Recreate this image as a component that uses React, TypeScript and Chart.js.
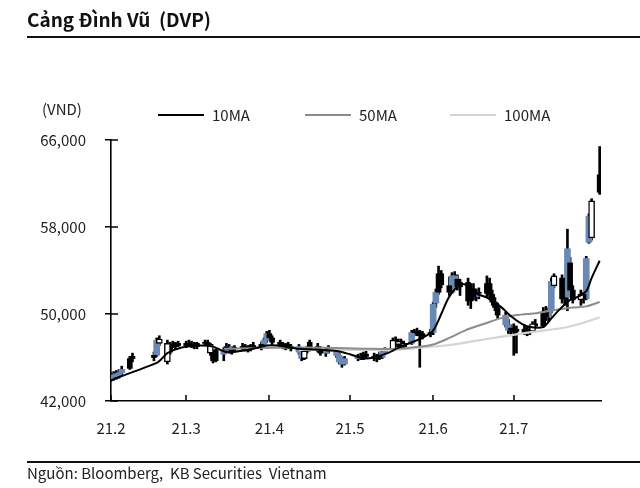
import React, { useEffect, useRef } from "react";
import { Chart, registerables } from "chart.js";

Chart.register(...registerables);

// Trading days, counted in calendar days from 1 Feb 2021
const tradeDays = [
  0, 1, 2, 3, 4, 7, 8, 16, 17, 18, 21, 22, 23, 24, 25, 28, 29, 30, 31, 32,
  35, 36, 37, 38, 39, 42, 43, 44, 45, 46, 49, 50, 51, 52, 53, 56, 57, 58, 59, 60,
  63, 64, 65, 66, 67, 70, 71, 72, 73, 74, 77, 78, 80, 81, 84, 85, 86, 87, 92, 93,
  94, 95, 98, 99, 100, 101, 102, 105, 106, 107, 108, 109, 112, 113, 114, 115, 116, 119, 120, 121,
  122, 123, 126, 127, 128, 129, 130, 133, 134, 135, 136, 137, 140, 141, 142, 143, 144, 147, 148, 149,
  150, 151, 154, 155, 156, 157, 158, 161, 162, 163, 164, 165, 168, 169, 170, 171, 172, 175, 176, 177,
  178, 179, 182,
];
const opens = [
  44000, 44200, 44300, 44400, 44600, 45000, 45900, 46000, 46200, 47700, 47300, 46500, 47200, 47000, 47300, 47100, 47300, 47200, 47100, 47000,
  47300, 47400, 47200, 46400, 45700, 46300, 46700, 47000, 46600, 46800, 46900, 47000, 46800, 46900, 47100, 47000, 47200, 47600, 48200, 47800,
  47400, 47100, 47000, 47200, 46900, 47000, 46500, 45900, 46600, 46800, 47000, 46700, 46400, 46600, 46700, 46200, 45600, 45400, 45900, 46100,
  46000, 46300, 46100, 45900, 46200, 46000, 46500, 46700, 47600, 47200, 47500, 47000, 47300, 48300, 48400, 48200, 48000, 48200, 48300, 51000,
  52000, 53700, 52600, 52000, 53500, 53200, 52500, 52900, 51200, 52300, 51600, 52000, 51900, 52800, 51800, 51100, 50600, 49900, 49000, 48500,
  48700, 48400, 48600, 48300, 48600, 48400, 49100, 48900, 50200, 49700, 50300, 52600, 53300, 51400, 51500, 54700, 52200, 51300, 51800, 51400,
  56600, 57000, 62800,
];
const highs = [
  44600, 44700, 44800, 44900, 45200, 46100, 46400, 46500, 47800, 48000, 47600, 47400, 47500, 47400, 47500, 47500, 47600, 47500, 47400, 47400,
  47600, 47600, 47300, 46600, 46800, 46900, 47300, 47200, 47000, 47100, 47300, 47200, 47100, 47200, 47400, 47400, 47800, 48400, 48500, 48000,
  47600, 47400, 47300, 47400, 47200, 47200, 46700, 46800, 47000, 47600, 47300, 47000, 46800, 47100, 46900, 46400, 46000, 46100, 46300, 46400,
  46500, 46600, 46400, 46300, 46500, 46700, 46900, 47800, 47900, 47700, 47700, 47500, 48500, 48600, 48700, 48500, 48400, 48600, 51100, 52300,
  54400, 54000, 53400, 53800, 53900, 53600, 53200, 53300, 52800, 52800, 52300, 52400, 53500, 53300, 52200, 51500, 51000, 50200, 49500, 49000,
  49100, 48900, 49000, 48800, 48900, 49300, 49500, 50600, 50700, 50500, 53300, 53700, 53600, 52200, 57800, 55200, 52600, 52200, 52000, 55300,
  59200, 60600, 65400,
];
const lows = [
  43800, 43900, 44000, 44100, 44300, 44900, 45600, 45700, 46100, 47100, 45400, 46300, 46900, 46800, 47000, 46900, 47000, 46900, 46800, 46800,
  47100, 47100, 46200, 45500, 45600, 45700, 46500, 46400, 46300, 46500, 46600, 46600, 46500, 46600, 46800, 46700, 47000, 47400, 47600, 47200,
  46900, 46800, 46700, 46800, 46600, 46300, 45700, 45800, 46400, 46600, 46500, 46200, 46100, 46400, 46000, 45400, 45100, 45300, 45700, 45800,
  45800, 45900, 45700, 45600, 45800, 45900, 46300, 46600, 47000, 47000, 46900, 46800, 47200, 48000, 48000, 45100, 47700, 47900, 48100, 50600,
  51800, 52400, 51700, 51900, 52800, 52200, 51700, 50800, 50500, 51300, 51200, 51400, 51600, 51500, 50800, 50300, 49600, 48800, 48200, 48000,
  46200, 46400, 48100, 48000, 48100, 48300, 48700, 48800, 49400, 49300, 50100, 52400, 51000, 50800, 50300, 52000, 51000, 50800, 51000, 51300,
  56500, 56800, 61000,
];
const closes = [
  44400, 44300, 44500, 44600, 44900, 45900, 46100, 46200, 47600, 47300, 45600, 47200, 47000, 47300, 47100, 47300, 47200, 47100, 47000, 47300,
  47400, 47200, 46400, 45700, 46700, 46700, 47000, 46600, 46800, 46900, 47000, 46800, 46900, 47100, 47000, 47200, 47600, 48200, 47800, 47400,
  47100, 47000, 47200, 46900, 47000, 46500, 45900, 46600, 46800, 47400, 46700, 46400, 46600, 46900, 46200, 45600, 45400, 45900, 46100, 46000,
  46300, 46100, 45900, 46200, 46000, 46500, 46700, 47600, 47200, 47500, 47000, 47300, 48300, 48400, 48200, 48000, 48200, 48300, 50900, 52000,
  53700, 52700, 52000, 53500, 53200, 52500, 52900, 51200, 52300, 51600, 52000, 51900, 52800, 51800, 51100, 50600, 49900, 49000, 48500, 48700,
  48400, 48600, 48300, 48600, 48400, 49100, 48900, 50200, 49700, 50300, 53000, 53500, 51400, 51500, 56000, 52200, 51300, 51800, 51400, 55100,
  59000, 60400, 61200,
];
// b = blue body, k = black body, w = hollow body
const kinds = [
  "b", "b", "b", "b", "b", "k", "k", "k", "b", "w", "w", "k", "k", "k", "k", "k", "k", "k", "k", "k",
  "k", "k", "w", "k", "k", "b", "k", "b", "k", "k", "k", "k", "k", "k", "k", "k", "b", "b", "k", "k",
  "k", "k", "k", "k", "k", "b", "b", "w", "k", "k", "k", "k", "b", "k", "b", "b", "b", "b", "b", "b",
  "k", "k", "k", "k", "k", "b", "b", "w", "k", "w", "k", "w", "b", "k", "k", "k", "k", "k", "b", "b",
  "k", "k", "k", "b", "b", "k", "k", "k", "k", "k", "b", "k", "k", "k", "k", "k", "k", "b", "b", "k",
  "k", "k", "k", "k", "k", "w", "k", "k", "k", "b", "b", "w", "k", "k", "b", "k", "k", "w", "k", "b",
  "b", "w", "k",
];

const ma10Days = [0, 2, 8, 17, 19, 21, 26, 33, 38, 43, 51, 58, 62, 70, 78, 84, 89, 95, 103, 107, 112, 116, 120, 123, 126, 130, 133, 136, 140, 145, 149, 153, 156, 161, 164, 167, 171, 174, 177, 179, 182];
const ma10Values = [43900, 44100, 44650, 45500, 45900, 46400, 46900, 47100, 47000, 46500, 46700, 47100, 47100, 46800, 46700, 46600, 46300, 45900, 46400, 46900, 47400, 47800, 48500, 50000, 51600, 52700, 52600, 51900, 51500, 50700, 49800, 49100, 48800, 48800, 49600, 50400, 51300, 51600, 52100, 53300, 54900];
const ma50Days = [42, 60, 80, 95, 107, 115, 120, 126, 132, 139, 145, 151, 159, 166, 172, 177, 182];
const ma50Values = [46800, 46900, 46900, 46800, 46800, 47000, 47200, 47800, 48500, 49100, 49600, 49900, 50100, 50400, 50600, 50700, 51100];
const ma100Days = [70, 85, 96, 105, 115, 126, 135, 145, 157, 165, 170, 176, 182];
const ma100Values = [46700, 46700, 46700, 46700, 46900, 47150, 47500, 47900, 48350, 48600, 48800, 49200, 49700];

const monthTickDays = [0, 28, 59, 89, 120, 150];
const monthTickLabels = ["21.2", "21.3", "21.4", "21.5", "21.6", "21.7"];
const yTickValues = [42000, 50000, 58000, 66000];

const legendNames = ["10MA", "50MA", "100MA"];
const FONT = "'Noto Sans CJK KR', 'Noto Sans', sans-serif";
const BLUE = "#6a8ab6";
const C10 = "#000000";
const C50 = "#8c8c8c";
const C100 = "#d4d4d4";

const innerTicks = {
  id: "innerTicks",
  afterDraw(chart: any) {
    const { ctx, chartArea, scales } = chart;
    ctx.save();
    ctx.strokeStyle = "#000";
    ctx.lineWidth = 1.5;
    scales.y.ticks.forEach((t: any) => {
      const py = Math.round(scales.y.getPixelForValue(t.value));
      ctx.beginPath();
      ctx.moveTo(chartArea.left, py);
      ctx.lineTo(chartArea.left + 7, py);
      ctx.stroke();
    });
    scales.x.ticks.forEach((t: any) => {
      const px = Math.round(scales.x.getPixelForValue(t.value));
      ctx.beginPath();
      ctx.moveTo(px, chartArea.bottom);
      ctx.lineTo(px, chartArea.bottom - 6);
      ctx.stroke();
    });
    ctx.restore();
  },
};

export default function App() {
  const ref = useRef<HTMLCanvasElement>(null);

  useEffect(() => {
    if (!ref.current) return;
    const wickData = tradeDays.map((d, i) => ({ x: d, y: [lows[i], highs[i]] }));
    const bodyData = (k: string) =>
      tradeDays
        .map((d, i) => (kinds[i] === k ? { x: d, y: [opens[i], closes[i]] } : null))
        .filter((v) => v !== null);
    const lineData = (days: number[], vals: number[]) => days.map((d, i) => ({ x: d, y: vals[i] }));

    const chart = new Chart(ref.current, {
      type: "bar",
      data: {
        datasets: [
          { type: "line", label: "10MA", data: lineData(ma10Days, ma10Values), borderColor: C10, borderWidth: 2, pointRadius: 0, tension: 0.3 } as any,
          { type: "line", label: "50MA", data: lineData(ma50Days, ma50Values), borderColor: C50, borderWidth: 2, pointRadius: 0, tension: 0.3 } as any,
          { type: "line", label: "100MA", data: lineData(ma100Days, ma100Values), borderColor: C100, borderWidth: 2.2, pointRadius: 0, tension: 0.3 } as any,
          { type: "bar", label: "hollow", data: bodyData("w"), backgroundColor: "#ffffff", borderColor: "#000", borderWidth: 1.4, borderSkipped: false, barThickness: 6, grouped: false } as any,
          { type: "bar", label: "black", data: bodyData("k"), backgroundColor: "#000", barThickness: 5, grouped: false } as any,
          { type: "bar", label: "blue", data: bodyData("b"), backgroundColor: BLUE, barThickness: 6, grouped: false } as any,
          { type: "bar", label: "wick", data: wickData, backgroundColor: "#000", barThickness: 2, grouped: false } as any,
        ],
      },
      options: {
        animation: false,
        responsive: false,
        devicePixelRatio: 1,
        layout: { padding: { left: 0, top: 140, right: 39, bottom: 0 } },
        plugins: { legend: { display: false }, tooltip: { enabled: false } },
        scales: {
          x: {
            type: "linear",
            min: 0,
            max: 182.5,
            offset: false,
            afterBuildTicks: (scale: any) => {
              scale.ticks = monthTickDays.map((v) => ({ value: v }));
            },
            afterFit: (scale: any) => {
              scale.height = 87;
            },
            ticks: {
              autoSkip: false,
              maxRotation: 0,
              padding: 18,
              color: "#222",
              font: { family: FONT, size: 15 },
              callback: (_v: any, i: number) => monthTickLabels[i],
            },
            grid: { drawOnChartArea: false, drawTicks: false },
            border: { color: "#000", width: 1.6 },
          },
          y: {
            min: 42000,
            max: 66000,
            afterBuildTicks: (scale: any) => {
              scale.ticks = yTickValues.map((v) => ({ value: v }));
            },
            afterFit: (scale: any) => {
              scale.width = 111;
            },
            ticks: {
              padding: 19,
              color: "#222",
              font: { family: FONT, size: 15 },
              callback: (v: any) => Number(v).toLocaleString("en-US"),
            },
            grid: { drawOnChartArea: false, drawTicks: true, tickLength: 6, color: "#000", lineWidth: 1.5 },
            border: { color: "#000", width: 1.6 },
          },
        },
      } as any,
      plugins: [innerTicks],
    });
    return () => chart.destroy();
  }, []);

  const legendColors = [C10, C50, C100];
  const legendLeft = [158, 305, 450];

  return (
    <div style={{ position: "fixed", left: 0, top: 0, width: 640, height: 488, background: "#fff", fontFamily: FONT, color: "#222" }}>
      <canvas ref={ref} width={640} height={488} style={{ position: "absolute", left: 0, top: 0 }} />
      <div style={{ position: "absolute", left: 27, top: 5, fontSize: 19, fontWeight: 700, color: "#111", whiteSpace: "nowrap" }}>
        Cảng Đình Vũ&nbsp; (DVP)
      </div>
      <div style={{ position: "absolute", left: 27, top: 36, width: 613, height: 2, background: "#111" }} />
      <div style={{ position: "absolute", left: 42, top: 100, fontSize: 15, lineHeight: "18px" }}>(VND)</div>
      {legendNames.map((n, i) => (
        <div key={n}>
          <div style={{ position: "absolute", left: legendLeft[i], top: 114, width: 46, height: 2, background: legendColors[i] }} />
          <div style={{ position: "absolute", left: legendLeft[i] + 54, top: 106, fontSize: 15, lineHeight: "18px" }}>{n}</div>
        </div>
      ))}
      <div style={{ position: "absolute", left: 27, top: 461, width: 613, height: 2, background: "#111" }} />
      <div style={{ position: "absolute", left: 27, top: 463, fontSize: 15, lineHeight: "20px", whiteSpace: "pre" }}>
        {"Nguồn: Bloomberg,  KB Securities  Vietnam"}
      </div>
    </div>
  );
}
